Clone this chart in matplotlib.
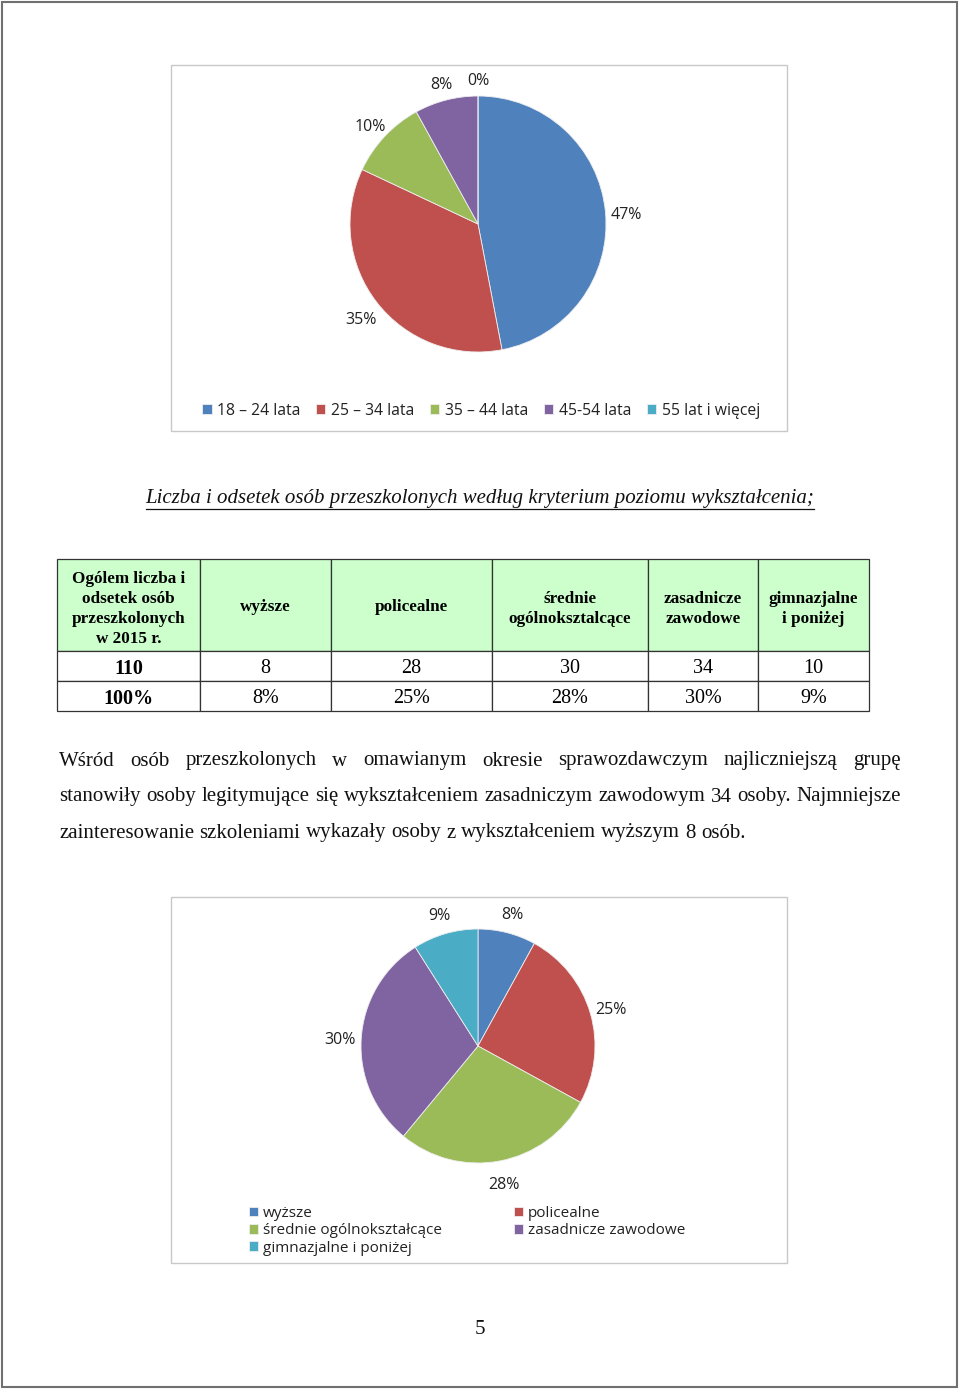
import matplotlib
matplotlib.use('Agg')
import matplotlib.pyplot as plt
from matplotlib.patches import Rectangle
from matplotlib.lines import Line2D
from matplotlib.transforms import offset_copy

W, H = 960, 1390
DPI = 100

# ---------------- data ----------------
age_groups = ['18 – 24 lata', '25 – 34 lata', '35 – 44 lata', '45-54 lata', '55 lat i więcej']
age_pct = [47, 35, 10, 8, 0]

edu_levels = ['wyższe', 'policealne', 'średnie ogólnokształcące',
              'zasadnicze zawodowe', 'gimnazjalne i poniżej']
edu_pct = [8, 25, 28, 30, 9]

table_header = ['Ogólem liczba i\nodsetek osób\nprzeszkolonych\nw 2015 r.', 'wyższe', 'policealne',
                'średnie\nogólnoksztalcące', 'zasadnicze\nzawodowe', 'gimnazjalne\ni poniżej']
table_counts = ['110', '8', '28', '30', '34', '10']
table_pcts = ['100%', '8%', '25%', '28%', '30%', '9%']

title_text = 'Liczba i odsetek osób przeszkolonych według kryterium poziomu wykształcenia;'
paragraph_lines = [
    'Wśród osób przeszkolonych w omawianym okresie sprawozdawczym najliczniejszą grupę',
    'stanowiły osoby legitymujące się wykształceniem zasadniczym zawodowym 34 osoby. Najmniejsze',
    'zainteresowanie szkoleniami wykazały osoby z wykształceniem wyższym 8 osób.',
]
page_number = '5'

colors = ['#4F81BD', '#C0504D', '#9BBB59', '#8064A2', '#4BACC6']

# ---------------- figure ----------------
fig = plt.figure(figsize=(W / DPI, H / DPI), dpi=DPI)
fig.patch.set_facecolor('white')
page = fig.add_axes([0, 0, 1, 1])
page.set_xlim(0, W)
page.set_ylim(H, 0)
page.axis('off')

SERIF = 'Liberation Serif'
SANS = 'Open Sans'


def px_axes(cx, cy, size):
    return fig.add_axes([(cx - size / 2) / W, 1 - (cy + size / 2) / H, size / W, size / H])


# page border
page.add_patch(Rectangle((2, 2), W - 5, H - 5, fill=False, edgecolor='#707070', lw=1.5))

# ---------------- pie 1 ----------------
page.add_patch(Rectangle((171, 65), 616, 366, fill=False, edgecolor='#C8C8C8', lw=1))
ax1 = px_axes(478, 224, 128 * 2.5)
w1, _, at1 = ax1.pie(age_pct, colors=colors, startangle=90, counterclock=False,
                     autopct=lambda p: f'{p:.0f}%', pctdistance=1.16,
                     wedgeprops=dict(linewidth=0.6, edgecolor='#eeeeee'),
                     textprops=dict(family=SANS, fontsize=11.5, color='#222222'))
ax1.set_aspect('equal')
for a in at1:
    a.set_transform(offset_copy(a.get_transform(), fig=fig, x=0, y=-5, units='dots'))
ax1.legend(w1, age_groups, loc='center', bbox_to_anchor=(481 / W, 1 - 411 / H),
           bbox_transform=fig.transFigure, ncol=5, frameon=False,
           handlelength=0.6, handleheight=0.6, handletextpad=0.35, columnspacing=1.0,
           prop=dict(family=SANS, size=11.3), labelcolor='#222222')

# ---------------- title ----------------
t = page.text(480, 498, title_text, family=SERIF, style='italic', fontsize=15,
              ha='center', va='center', color='#111111')
fig.canvas.draw()
renderer = fig.canvas.get_renderer()
bb = t.get_window_extent(renderer)
page.add_line(Line2D([bb.x0, bb.x1], [509, 509], color='#111111', lw=0.9))

# ---------------- table ----------------
col_edges = [57, 200, 331, 492, 648, 758, 869]
col_w = [col_edges[i + 1] - col_edges[i] for i in range(6)]
tbl = page.table(cellText=[table_counts, table_pcts], colLabels=table_header,
                 colWidths=[c / W for c in col_w], cellLoc='center',
                 bbox=[57 / W, 1 - 711 / H, (869 - 57) / W, (711 - 559) / H])
tbl.auto_set_font_size(False)
for (r, c), cell in tbl.get_celld().items():
    cell.set_edgecolor('#333333')
    cell.set_linewidth(0.9)
    txt = cell.get_text()
    txt.set_family(SERIF)
    if r == 0:
        cell.set_height(92)
        cell.set_facecolor('#CCFFCC')
        txt.set_fontsize(12.3)
        txt.set_weight('bold')
        txt.set_linespacing(1.33)
        txt.set_va('center_baseline')
    else:
        cell.set_height(30)
        cell.set_facecolor('white')
        txt.set_fontsize(14.5)
        txt.set_weight('bold' if c == 0 else 'normal')
        txt.set_va('center_baseline')

# ---------------- paragraph (justified) ----------------
x_left, x_right = 59, 901
line_y = [761, 797, 833]
fs_par = 15
for li, (line, y) in enumerate(zip(paragraph_lines, line_y)):
    words = line.split(' ')
    texts = [page.text(0, y, wd, family=SERIF, fontsize=fs_par, ha='left', va='center',
                       color='#111111') for wd in words]
    widths = [tx.get_window_extent(renderer).width for tx in texts]
    if li < len(paragraph_lines) - 1:
        gap = (x_right - x_left - sum(widths)) / (len(words) - 1)
    else:
        sp = page.text(0, 0, 'a a', family=SERIF, fontsize=fs_par)
        sp2 = page.text(0, 0, 'aa', family=SERIF, fontsize=fs_par)
        gap = sp.get_window_extent(renderer).width - sp2.get_window_extent(renderer).width
        sp.remove(); sp2.remove()
    x = x_left
    for tx, wdt in zip(texts, widths):
        tx.set_x(x)
        x += wdt + gap

# ---------------- pie 2 ----------------
page.add_patch(Rectangle((171, 897), 616, 366, fill=False, edgecolor='#C8C8C8', lw=1))
ax2 = px_axes(478, 1046, 117 * 2.5)
w2, _, at2 = ax2.pie(edu_pct, colors=colors, startangle=90, counterclock=False,
                     autopct=lambda p: f'{p:.0f}%', pctdistance=1.18,
                     wedgeprops=dict(linewidth=0.6, edgecolor='#eeeeee'),
                     textprops=dict(family=SANS, fontsize=11.5, color='#222222'))
ax2.set_aspect('equal')
for a in at2:
    a.set_transform(offset_copy(a.get_transform(), fig=fig, x=0, y=-3, units='dots'))
order = [0, 2, 4, 1, 3]
ax2.legend([w2[i] for i in order], [edu_levels[i] for i in order], loc='upper left',
           bbox_to_anchor=(249 / W, 1 - 1206 / H), bbox_transform=fig.transFigure,
           ncol=2, frameon=False, handlelength=0.6, handleheight=0.6, handletextpad=0.3,
           columnspacing=4.75, labelspacing=0.15, borderpad=0, borderaxespad=0,
           prop=dict(family=SANS, size=11), labelcolor='#222222')

# ---------------- page number ----------------
page.text(480, 1330, page_number, family=SERIF, fontsize=15, ha='center', va='center',
          color='#111111')

fig.savefig('out.png', dpi=DPI, facecolor='white')
